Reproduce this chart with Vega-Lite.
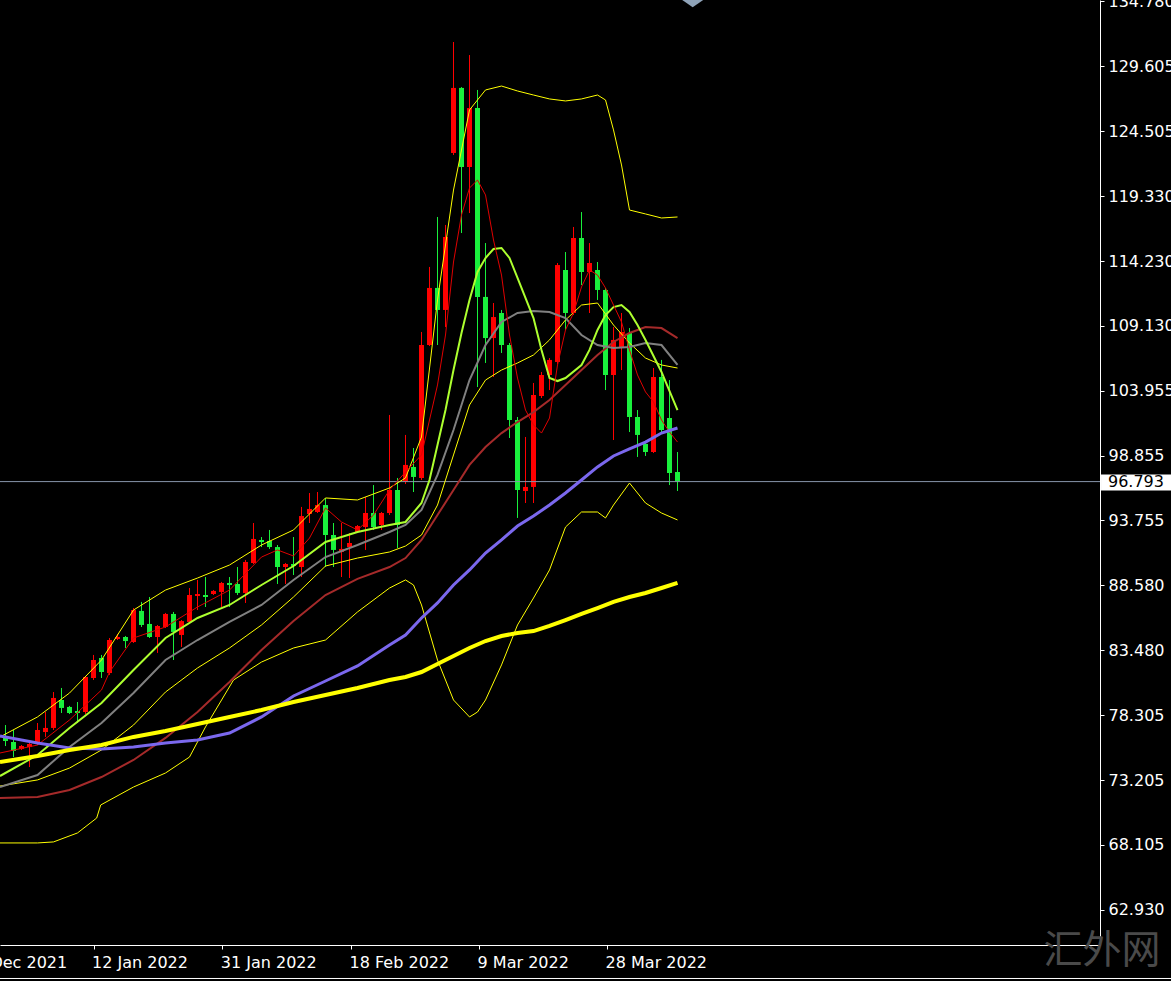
{
  "$schema": "https://vega.github.io/schema/vega-lite/v6.json",
  "width": 1100,
  "height": 945,
  "autosize": {"type": "none"},
  "padding": {"left": 0, "top": 0, "right": 71, "bottom": 36},
  "background": "#000000",
  "config": {"view": {"stroke": null}, "scale": {"continuousPadding": 0}},
  "datasets": {
    "candles": [
      {"j":0,"open":76.68,"high":77.55,"low":75.89,"close":76.29},
      {"j":1,"open":76.21,"high":77.16,"low":75.02,"close":75.50},
      {"j":2,"open":75.66,"high":75.97,"low":75.58,"close":75.89},
      {"j":3,"open":75.81,"high":76.37,"low":74.23,"close":76.05},
      {"j":4,"open":76.13,"high":77.71,"low":75.97,"close":77.16},
      {"j":5,"open":77.00,"high":78.58,"low":76.61,"close":77.32},
      {"j":6,"open":77.32,"high":80.16,"low":77.16,"close":79.69},
      {"j":7,"open":79.53,"high":80.48,"low":78.50,"close":78.90},
      {"j":8,"open":78.98,"high":79.06,"low":78.42,"close":78.50},
      {"j":9,"open":78.66,"high":79.37,"low":77.71,"close":78.50},
      {"j":10,"open":78.58,"high":81.43,"low":78.42,"close":81.35},
      {"j":11,"open":81.27,"high":83.09,"low":81.11,"close":82.69},
      {"j":12,"open":82.85,"high":83.09,"low":81.27,"close":81.74},
      {"j":13,"open":81.66,"high":84.43,"low":81.51,"close":84.27},
      {"j":14,"open":84.35,"high":84.75,"low":84.27,"close":84.51},
      {"j":15,"open":84.51,"high":84.59,"low":83.64,"close":84.19},
      {"j":16,"open":84.11,"high":86.80,"low":84.04,"close":86.64},
      {"j":17,"open":86.57,"high":87.28,"low":85.30,"close":85.46},
      {"j":18,"open":85.54,"high":87.67,"low":84.43,"close":84.51},
      {"j":19,"open":84.51,"high":85.46,"low":83.25,"close":85.38},
      {"j":20,"open":85.30,"high":86.41,"low":85.22,"close":86.33},
      {"j":21,"open":86.33,"high":86.49,"low":82.69,"close":84.91},
      {"j":22,"open":84.67,"high":85.85,"low":83.72,"close":85.77},
      {"j":23,"open":85.70,"high":88.38,"low":85.62,"close":87.83},
      {"j":24,"open":87.75,"high":89.02,"low":86.64,"close":87.91},
      {"j":25,"open":87.83,"high":89.25,"low":86.88,"close":87.67},
      {"j":26,"open":87.91,"high":88.22,"low":87.83,"close":88.15},
      {"j":27,"open":88.07,"high":88.86,"low":86.88,"close":88.78},
      {"j":28,"open":88.78,"high":89.25,"low":86.88,"close":88.62},
      {"j":29,"open":88.70,"high":90.04,"low":87.83,"close":87.99},
      {"j":30,"open":87.99,"high":90.60,"low":87.20,"close":90.44},
      {"j":31,"open":90.36,"high":93.52,"low":90.28,"close":92.26},
      {"j":32,"open":92.18,"high":92.41,"low":91.62,"close":92.02},
      {"j":33,"open":92.10,"high":92.97,"low":91.47,"close":91.62},
      {"j":34,"open":91.62,"high":91.78,"low":88.70,"close":90.04},
      {"j":35,"open":90.04,"high":90.36,"low":88.70,"close":90.28},
      {"j":36,"open":90.28,"high":92.41,"low":89.41,"close":90.12},
      {"j":37,"open":90.04,"high":94.79,"low":89.25,"close":94.07},
      {"j":38,"open":94.23,"high":95.89,"low":93.52,"close":94.63},
      {"j":39,"open":94.39,"high":95.97,"low":94.31,"close":94.94},
      {"j":40,"open":94.94,"high":95.50,"low":90.04,"close":92.57},
      {"j":41,"open":92.57,"high":93.52,"low":90.04,"close":91.39},
      {"j":42,"open":91.23,"high":93.52,"low":89.25,"close":91.47},
      {"j":43,"open":91.62,"high":92.73,"low":89.17,"close":91.94},
      {"j":44,"open":92.81,"high":93.36,"low":92.73,"close":93.28},
      {"j":45,"open":93.20,"high":95.58,"low":91.39,"close":94.31},
      {"j":46,"open":94.31,"high":96.52,"low":92.97,"close":93.20},
      {"j":47,"open":93.36,"high":94.39,"low":92.97,"close":94.31},
      {"j":48,"open":94.31,"high":102.06,"low":94.15,"close":96.13},
      {"j":49,"open":96.13,"high":97.08,"low":91.54,"close":93.36},
      {"j":50,"open":96.76,"high":100.48,"low":96.60,"close":98.11},
      {"j":51,"open":97.95,"high":99.45,"low":95.97,"close":97.16},
      {"j":52,"open":97.08,"high":108.62,"low":96.92,"close":107.59},
      {"j":53,"open":107.59,"high":113.76,"low":107.51,"close":112.10},
      {"j":54,"open":112.10,"high":117.71,"low":107.59,"close":110.36},
      {"j":55,"open":110.36,"high":117.08,"low":109.01,"close":116.13},
      {"j":56,"open":122.77,"high":131.54,"low":122.61,"close":127.91},
      {"j":57,"open":127.91,"high":127.98,"low":116.44,"close":121.66},
      {"j":58,"open":121.66,"high":130.51,"low":118.02,"close":126.32},
      {"j":59,"open":126.32,"high":127.75,"low":104.27,"close":111.39},
      {"j":60,"open":111.39,"high":115.65,"low":106.17,"close":108.14},
      {"j":61,"open":108.14,"high":110.91,"low":105.06,"close":109.80},
      {"j":62,"open":110.12,"high":110.36,"low":106.96,"close":107.59},
      {"j":63,"open":107.59,"high":107.75,"low":100.24,"close":101.66},
      {"j":64,"open":101.66,"high":101.90,"low":93.92,"close":96.13},
      {"j":65,"open":96.05,"high":100.32,"low":95.10,"close":96.37},
      {"j":66,"open":96.37,"high":104.59,"low":95.10,"close":103.64},
      {"j":67,"open":103.56,"high":105.46,"low":103.40,"close":105.22},
      {"j":68,"open":105.22,"high":106.56,"low":104.03,"close":106.41},
      {"j":69,"open":106.25,"high":114.07,"low":106.09,"close":113.91},
      {"j":70,"open":113.52,"high":114.94,"low":108.78,"close":110.12},
      {"j":71,"open":110.12,"high":116.92,"low":109.96,"close":116.05},
      {"j":72,"open":116.05,"high":118.10,"low":112.33,"close":113.36},
      {"j":73,"open":113.36,"high":115.65,"low":110.12,"close":114.07},
      {"j":74,"open":113.52,"high":114.15,"low":111.15,"close":111.94},
      {"j":75,"open":111.94,"high":112.10,"low":104.03,"close":105.22},
      {"j":76,"open":105.22,"high":109.01,"low":100.08,"close":107.99},
      {"j":77,"open":107.43,"high":110.12,"low":105.61,"close":108.62},
      {"j":78,"open":108.54,"high":108.93,"low":100.71,"close":101.90},
      {"j":79,"open":101.90,"high":102.45,"low":98.74,"close":100.48},
      {"j":80,"open":99.77,"high":99.84,"low":98.82,"close":99.13},
      {"j":81,"open":99.13,"high":105.77,"low":99.05,"close":105.06},
      {"j":82,"open":105.06,"high":106.41,"low":100.71,"close":100.87},
      {"j":83,"open":101.82,"high":104.82,"low":96.52,"close":97.47},
      {"j":84,"open":97.55,"high":99.13,"low":96.05,"close":96.793}
    ],
    "last": [{"price": 96.793}],
    "lines": [
      {"s":"bbu","j":-0.69,"v":76.61},{"s":"bbu","j":4,"v":78.19},{"s":"bbu","j":8,"v":80.08},{"s":"bbu","j":12,"v":82.69},{"s":"bbu","j":16,"v":86.64},{"s":"bbu","j":20,"v":88.22},{"s":"bbu","j":24,"v":89.17},{"s":"bbu","j":28,"v":90.20},{"s":"bbu","j":32,"v":91.78},{"s":"bbu","j":36,"v":92.97},{"s":"bbu","j":40,"v":95.50},{"s":"bbu","j":44,"v":95.34},{"s":"bbu","j":48,"v":96.29},{"s":"bbu","j":50,"v":97.08},{"s":"bbu","j":52,"v":100.32},{"s":"bbu","j":54,"v":111.15},{"s":"bbu","j":56,"v":119.84},{"s":"bbu","j":58,"v":126.17},{"s":"bbu","j":60,"v":127.75},{"s":"bbu","j":62,"v":128.06},{"s":"bbu","j":64,"v":127.67},{"s":"bbu","j":66,"v":127.35},{"s":"bbu","j":68,"v":127.04},{"s":"bbu","j":70,"v":126.88},{"s":"bbu","j":72,"v":127.04},{"s":"bbu","j":74,"v":127.35},{"s":"bbu","j":75,"v":126.96},{"s":"bbu","j":76,"v":124.59},{"s":"bbu","j":77,"v":121.82},{"s":"bbu","j":78,"v":118.26},{"s":"bbu","j":80,"v":117.95},{"s":"bbu","j":82,"v":117.63},{"s":"bbu","j":84,"v":117.71},
      {"s":"bbm","j":-0.69,"v":72.73},{"s":"bbm","j":4,"v":73.21},{"s":"bbm","j":8,"v":74.15},{"s":"bbm","j":12,"v":75.58},{"s":"bbm","j":16,"v":77.55},{"s":"bbm","j":20,"v":80.16},{"s":"bbm","j":24,"v":82.06},{"s":"bbm","j":28,"v":83.64},{"s":"bbm","j":32,"v":85.46},{"s":"bbm","j":36,"v":87.67},{"s":"bbm","j":40,"v":90.12},{"s":"bbm","j":44,"v":90.75},{"s":"bbm","j":48,"v":91.23},{"s":"bbm","j":50,"v":91.70},{"s":"bbm","j":52,"v":92.57},{"s":"bbm","j":54,"v":94.94},{"s":"bbm","j":56,"v":98.90},{"s":"bbm","j":58,"v":102.85},{"s":"bbm","j":60,"v":104.82},{"s":"bbm","j":62,"v":105.61},{"s":"bbm","j":64,"v":106.17},{"s":"bbm","j":66,"v":106.80},{"s":"bbm","j":68,"v":107.99},{"s":"bbm","j":70,"v":109.57},{"s":"bbm","j":72,"v":110.75},{"s":"bbm","j":74,"v":110.91},{"s":"bbm","j":76,"v":109.17},{"s":"bbm","j":78,"v":107.75},{"s":"bbm","j":80,"v":106.56},{"s":"bbm","j":82,"v":106.01},{"s":"bbm","j":84,"v":105.77},
      {"s":"bbl","j":-0.69,"v":68.23},{"s":"bbl","j":4,"v":68.23},{"s":"bbl","j":6,"v":68.31},{"s":"bbl","j":9,"v":69.02},{"s":"bbl","j":11.4,"v":70.20},{"s":"bbl","j":11.9,"v":71.23},{"s":"bbl","j":16,"v":72.65},{"s":"bbl","j":20,"v":73.76},{"s":"bbl","j":23,"v":75.02},{"s":"bbl","j":25,"v":77.40},{"s":"bbl","j":28.5,"v":81.11},{"s":"bbl","j":32,"v":82.53},{"s":"bbl","j":36,"v":83.64},{"s":"bbl","j":40,"v":84.27},{"s":"bbl","j":44,"v":86.49},{"s":"bbl","j":48,"v":88.38},{"s":"bbl","j":50,"v":89.02},{"s":"bbl","j":51,"v":88.62},{"s":"bbl","j":52,"v":87.04},{"s":"bbl","j":54,"v":82.69},{"s":"bbl","j":56,"v":79.53},{"s":"bbl","j":58,"v":78.19},{"s":"bbl","j":59,"v":78.58},{"s":"bbl","j":60,"v":79.53},{"s":"bbl","j":62,"v":82.30},{"s":"bbl","j":64,"v":85.46},{"s":"bbl","j":66,"v":87.59},{"s":"bbl","j":68,"v":89.81},{"s":"bbl","j":70,"v":93.20},{"s":"bbl","j":72,"v":94.39},{"s":"bbl","j":74,"v":94.39},{"s":"bbl","j":75,"v":93.92},{"s":"bbl","j":76,"v":94.94},{"s":"bbl","j":78,"v":96.68},{"s":"bbl","j":80,"v":95.10},{"s":"bbl","j":82,"v":94.31},{"s":"bbl","j":84,"v":93.76},
      {"s":"ma30","j":-0.69,"v":71.78},{"s":"ma30","j":4,"v":71.86},{"s":"ma30","j":8,"v":72.42},{"s":"ma30","j":12,"v":73.44},{"s":"ma30","j":16,"v":74.79},{"s":"ma30","j":20,"v":76.53},{"s":"ma30","j":24,"v":78.58},{"s":"ma30","j":28,"v":80.95},{"s":"ma30","j":32,"v":83.48},{"s":"ma30","j":36,"v":85.77},{"s":"ma30","j":40,"v":87.83},{"s":"ma30","j":44,"v":89.10},{"s":"ma30","j":48,"v":90.04},{"s":"ma30","j":50,"v":90.75},{"s":"ma30","j":52,"v":92.18},{"s":"ma30","j":54,"v":94.15},{"s":"ma30","j":56,"v":96.13},{"s":"ma30","j":58,"v":98.11},{"s":"ma30","j":60,"v":99.53},{"s":"ma30","j":62,"v":100.63},{"s":"ma30","j":64,"v":101.50},{"s":"ma30","j":66,"v":102.29},{"s":"ma30","j":68,"v":103.24},{"s":"ma30","j":70,"v":104.43},{"s":"ma30","j":72,"v":105.61},{"s":"ma30","j":74,"v":106.80},{"s":"ma30","j":76,"v":107.83},{"s":"ma30","j":78,"v":108.54},{"s":"ma30","j":80,"v":109.01},{"s":"ma30","j":82,"v":108.93},{"s":"ma30","j":84,"v":108.14},
      {"s":"ema20","j":-0.69,"v":72.65},{"s":"ema20","j":4,"v":73.60},{"s":"ema20","j":8,"v":75.81},{"s":"ema20","j":12,"v":77.71},{"s":"ema20","j":16,"v":80.08},{"s":"ema20","j":20,"v":82.69},{"s":"ema20","j":24,"v":84.27},{"s":"ema20","j":28,"v":85.70},{"s":"ema20","j":32,"v":87.04},{"s":"ema20","j":36,"v":89.02},{"s":"ema20","j":40,"v":90.83},{"s":"ema20","j":44,"v":91.78},{"s":"ema20","j":48,"v":92.81},{"s":"ema20","j":50,"v":93.36},{"s":"ema20","j":52,"v":94.55},{"s":"ema20","j":54,"v":97.32},{"s":"ema20","j":56,"v":100.87},{"s":"ema20","j":58,"v":104.82},{"s":"ema20","j":60,"v":107.59},{"s":"ema20","j":62,"v":109.41},{"s":"ema20","j":64,"v":110.12},{"s":"ema20","j":66,"v":110.28},{"s":"ema20","j":68,"v":110.20},{"s":"ema20","j":70,"v":109.72},{"s":"ema20","j":72,"v":108.38},{"s":"ema20","j":74,"v":107.59},{"s":"ema20","j":76,"v":107.35},{"s":"ema20","j":78,"v":107.43},{"s":"ema20","j":80,"v":107.75},{"s":"ema20","j":82,"v":107.59},{"s":"ema20","j":84,"v":106.01},
      {"s":"ma10","j":-0.69,"v":73.52},{"s":"ma10","j":4,"v":75.18},{"s":"ma10","j":8,"v":77.32},{"s":"ma10","j":12,"v":79.29},{"s":"ma10","j":16,"v":81.90},{"s":"ma10","j":20,"v":84.43},{"s":"ma10","j":24,"v":86.01},{"s":"ma10","j":28,"v":87.04},{"s":"ma10","j":32,"v":88.62},{"s":"ma10","j":36,"v":90.12},{"s":"ma10","j":40,"v":92.02},{"s":"ma10","j":44,"v":92.81},{"s":"ma10","j":48,"v":93.36},{"s":"ma10","j":50,"v":93.60},{"s":"ma10","j":52,"v":95.10},{"s":"ma10","j":53,"v":96.92},{"s":"ma10","j":54,"v":99.69},{"s":"ma10","j":55,"v":102.45},{"s":"ma10","j":56,"v":105.61},{"s":"ma10","j":57,"v":108.54},{"s":"ma10","j":58,"v":111.15},{"s":"ma10","j":59,"v":113.36},{"s":"ma10","j":60,"v":114.47},{"s":"ma10","j":61,"v":115.18},{"s":"ma10","j":62,"v":115.26},{"s":"ma10","j":63,"v":114.47},{"s":"ma10","j":64,"v":112.89},{"s":"ma10","j":66,"v":109.72},{"s":"ma10","j":67,"v":107.20},{"s":"ma10","j":68,"v":104.98},{"s":"ma10","j":69,"v":104.74},{"s":"ma10","j":70,"v":104.98},{"s":"ma10","j":72,"v":106.01},{"s":"ma10","j":73,"v":107.20},{"s":"ma10","j":74,"v":108.78},{"s":"ma10","j":75,"v":109.96},{"s":"ma10","j":76,"v":110.59},{"s":"ma10","j":77,"v":110.75},{"s":"ma10","j":78,"v":110.20},{"s":"ma10","j":79,"v":109.17},{"s":"ma10","j":80,"v":107.99},{"s":"ma10","j":82,"v":105.46},{"s":"ma10","j":84,"v":102.45},
      {"s":"ma5","j":-0.69,"v":75.34},{"s":"ma5","j":4,"v":75.97},{"s":"ma5","j":8,"v":77.95},{"s":"ma5","j":12,"v":80.32},{"s":"ma5","j":13,"v":81.74},{"s":"ma5","j":16,"v":84.43},{"s":"ma5","j":20,"v":85.30},{"s":"ma5","j":24,"v":86.88},{"s":"ma5","j":28,"v":88.22},{"s":"ma5","j":32,"v":90.83},{"s":"ma5","j":34,"v":91.39},{"s":"ma5","j":36,"v":90.91},{"s":"ma5","j":38,"v":92.33},{"s":"ma5","j":40,"v":94.71},{"s":"ma5","j":42,"v":93.60},{"s":"ma5","j":44,"v":92.97},{"s":"ma5","j":46,"v":94.15},{"s":"ma5","j":48,"v":96.13},{"s":"ma5","j":50,"v":97.55},{"s":"ma5","j":52,"v":98.90},{"s":"ma5","j":53,"v":101.66},{"s":"ma5","j":54,"v":104.43},{"s":"ma5","j":55,"v":108.38},{"s":"ma5","j":56,"v":114.15},{"s":"ma5","j":57,"v":117.87},{"s":"ma5","j":58,"v":120.00},{"s":"ma5","j":59,"v":120.63},{"s":"ma5","j":60,"v":119.45},{"s":"ma5","j":61,"v":115.89},{"s":"ma5","j":62,"v":113.12},{"s":"ma5","j":63,"v":108.38},{"s":"ma5","j":64,"v":104.98},{"s":"ma5","j":65,"v":102.45},{"s":"ma5","j":66,"v":101.27},{"s":"ma5","j":67,"v":100.63},{"s":"ma5","j":68,"v":101.82},{"s":"ma5","j":69,"v":106.01},{"s":"ma5","j":70,"v":108.78},{"s":"ma5","j":71,"v":110.12},{"s":"ma5","j":72,"v":112.18},{"s":"ma5","j":73,"v":113.52},{"s":"ma5","j":74,"v":113.12},{"s":"ma5","j":75,"v":112.10},{"s":"ma5","j":76,"v":110.75},{"s":"ma5","j":77,"v":109.41},{"s":"ma5","j":78,"v":107.20},{"s":"ma5","j":79,"v":105.22},{"s":"ma5","j":80,"v":103.88},{"s":"ma5","j":81,"v":103.09},{"s":"ma5","j":82,"v":101.66},{"s":"ma5","j":83,"v":100.71},{"s":"ma5","j":84,"v":99.92},
      {"s":"ma60","j":-0.69,"v":76.68},{"s":"ma60","j":4,"v":76.13},{"s":"ma60","j":8,"v":75.74},{"s":"ma60","j":12,"v":75.66},{"s":"ma60","j":16,"v":75.81},{"s":"ma60","j":20,"v":76.13},{"s":"ma60","j":24,"v":76.37},{"s":"ma60","j":28,"v":76.92},{"s":"ma60","j":32,"v":78.19},{"s":"ma60","j":36,"v":79.85},{"s":"ma60","j":40,"v":81.03},{"s":"ma60","j":44,"v":82.22},{"s":"ma60","j":48,"v":83.88},{"s":"ma60","j":50,"v":84.67},{"s":"ma60","j":52,"v":86.01},{"s":"ma60","j":54,"v":87.20},{"s":"ma60","j":56,"v":88.62},{"s":"ma60","j":58,"v":89.81},{"s":"ma60","j":60,"v":91.15},{"s":"ma60","j":62,"v":92.18},{"s":"ma60","j":64,"v":93.28},{"s":"ma60","j":66,"v":94.07},{"s":"ma60","j":68,"v":94.94},{"s":"ma60","j":70,"v":95.89},{"s":"ma60","j":72,"v":96.92},{"s":"ma60","j":74,"v":97.95},{"s":"ma60","j":76,"v":98.82},{"s":"ma60","j":78,"v":99.37},{"s":"ma60","j":80,"v":99.92},{"s":"ma60","j":82,"v":100.63},{"s":"ma60","j":84,"v":101.03},
      {"s":"ma200","j":-0.69,"v":74.63},{"s":"ma200","j":4,"v":75.10},{"s":"ma200","j":8,"v":75.58},{"s":"ma200","j":12,"v":75.97},{"s":"ma200","j":16,"v":76.61},{"s":"ma200","j":20,"v":77.08},{"s":"ma200","j":24,"v":77.63},{"s":"ma200","j":28,"v":78.19},{"s":"ma200","j":32,"v":78.74},{"s":"ma200","j":36,"v":79.37},{"s":"ma200","j":40,"v":79.92},{"s":"ma200","j":44,"v":80.48},{"s":"ma200","j":48,"v":81.11},{"s":"ma200","j":50,"v":81.35},{"s":"ma200","j":52,"v":81.74},{"s":"ma200","j":54,"v":82.38},{"s":"ma200","j":56,"v":83.01},{"s":"ma200","j":58,"v":83.64},{"s":"ma200","j":60,"v":84.19},{"s":"ma200","j":62,"v":84.59},{"s":"ma200","j":64,"v":84.83},{"s":"ma200","j":66,"v":84.98},{"s":"ma200","j":68,"v":85.38},{"s":"ma200","j":70,"v":85.85},{"s":"ma200","j":72,"v":86.33},{"s":"ma200","j":74,"v":86.80},{"s":"ma200","j":76,"v":87.28},{"s":"ma200","j":78,"v":87.67},{"s":"ma200","j":80,"v":87.99},{"s":"ma200","j":82,"v":88.38},{"s":"ma200","j":84,"v":88.78}
    ]
  },
  "layer": [
    {
      "data": {"name": "candles"},
      "mark": {"type": "rule", "strokeWidth": 1},
      "encoding": {
        "x": {"field": "j", "type": "quantitative",
          "scale": {"domain": [-0.6875, 136.8125], "nice": false, "zero": false, "padding": 0},
          "axis": {
            "orient": "bottom", "title": null, "grid": false,
            "values": [7.9, 11.0, 27.1, 43.2, 59.2, 75.2],
            "labelExpr": "datum.value < 8 ? '24 Dec 2021' : datum.value < 12 ? '12 Jan 2022' : datum.value < 28 ? '31 Jan 2022' : datum.value < 44 ? '18 Feb 2022' : datum.value < 60 ? '9 Mar 2022' : '28 Mar 2022'",
            "labelAlign": {"condition": {"test": "datum.value < 8", "value": "right"}, "value": "left"},
            "tickOpacity": {"condition": {"test": "datum.value < 8", "value": 0}, "value": 1},
            "labelOffset": -2,
            "labelFlush": false, "labelOverlap": false, "labelBound": false,
            "domainColor": "#ffffff", "tickColor": "#ffffff", "labelColor": "#ffffff",
            "tickSize": 4, "labelPadding": 5,
            "labelFont": "DejaVu Sans", "labelFontSize": 16
          }
        },
        "y": {"field": "low", "type": "quantitative",
          "scale": {"domain": [60.163, 134.861], "nice": false, "zero": false, "padding": 0},
          "axis": {
            "orient": "right", "title": null, "grid": false,
            "values": [134.78, 129.605, 124.505, 119.33, 114.23, 109.13, 103.955, 98.855, 93.755, 88.58, 83.48, 78.305, 73.205, 68.105, 62.93],
            "format": ".3f",
            "labelOverlap": false, "labelBound": false, "labelFlush": false,
            "domainColor": "#ffffff", "tickColor": "#ffffff", "labelColor": "#ffffff",
            "tickSize": 4, "labelPadding": 4,
            "labelFont": "DejaVu Sans", "labelFontSize": 16
          }
        },
        "y2": {"field": "high"},
        "color": {"condition": {"test": "datum.close > datum.open", "value": "#ff0000"}, "value": "#19f03c"}
      }
    },
    {
      "data": {"name": "candles"},
      "mark": {"type": "bar", "width": 5},
      "encoding": {
        "x": {"field": "j", "type": "quantitative", "scale": {"domain": [-0.6875, 136.8125], "nice": false, "zero": false, "padding": 0}},
        "y": {"field": "open", "type": "quantitative", "scale": {"domain": [60.163, 134.861], "nice": false, "zero": false, "padding": 0}},
        "y2": {"field": "close"},
        "color": {"condition": {"test": "datum.close > datum.open", "value": "#ff0000"}, "value": "#19f03c"}
      }
    },
    {
      "data": {"name": "last"},
      "mark": {"type": "rule", "color": "#8796aa", "strokeWidth": 1},
      "encoding": {
        "y": {"field": "price", "type": "quantitative", "scale": {"domain": [60.163, 134.861], "nice": false, "zero": false, "padding": 0}}
      }
    },
    {
      "data": {"name": "lines"},
      "transform": [{"filter": {"field": "s", "oneOf": ["bbu", "bbm", "bbl"]}}],
      "mark": {"type": "line", "color": "#ffff00", "strokeWidth": 1},
      "encoding": {
        "x": {"field": "j", "type": "quantitative", "scale": {"domain": [-0.6875, 136.8125], "nice": false, "zero": false, "padding": 0}},
        "y": {"field": "v", "type": "quantitative", "scale": {"domain": [60.163, 134.861], "nice": false, "zero": false, "padding": 0}},
        "detail": {"field": "s"}
      }
    },
    {
      "data": {"name": "lines"},
      "transform": [{"filter": {"field": "s", "equal": "ma30"}}],
      "mark": {"type": "line", "color": "#a52a2a", "strokeWidth": 2},
      "encoding": {
        "x": {"field": "j", "type": "quantitative", "scale": {"domain": [-0.6875, 136.8125], "nice": false, "zero": false, "padding": 0}},
        "y": {"field": "v", "type": "quantitative", "scale": {"domain": [60.163, 134.861], "nice": false, "zero": false, "padding": 0}}
      }
    },
    {
      "data": {"name": "lines"},
      "transform": [{"filter": {"field": "s", "equal": "ema20"}}],
      "mark": {"type": "line", "color": "#808080", "strokeWidth": 2},
      "encoding": {
        "x": {"field": "j", "type": "quantitative", "scale": {"domain": [-0.6875, 136.8125], "nice": false, "zero": false, "padding": 0}},
        "y": {"field": "v", "type": "quantitative", "scale": {"domain": [60.163, 134.861], "nice": false, "zero": false, "padding": 0}}
      }
    },
    {
      "data": {"name": "lines"},
      "transform": [{"filter": {"field": "s", "equal": "ma10"}}],
      "mark": {"type": "line", "color": "#adff2f", "strokeWidth": 2},
      "encoding": {
        "x": {"field": "j", "type": "quantitative", "scale": {"domain": [-0.6875, 136.8125], "nice": false, "zero": false, "padding": 0}},
        "y": {"field": "v", "type": "quantitative", "scale": {"domain": [60.163, 134.861], "nice": false, "zero": false, "padding": 0}}
      }
    },
    {
      "data": {"name": "lines"},
      "transform": [{"filter": {"field": "s", "equal": "ma5"}}],
      "mark": {"type": "line", "color": "#e00000", "strokeWidth": 1},
      "encoding": {
        "x": {"field": "j", "type": "quantitative", "scale": {"domain": [-0.6875, 136.8125], "nice": false, "zero": false, "padding": 0}},
        "y": {"field": "v", "type": "quantitative", "scale": {"domain": [60.163, 134.861], "nice": false, "zero": false, "padding": 0}}
      }
    },
    {
      "data": {"name": "lines"},
      "transform": [{"filter": {"field": "s", "equal": "ma60"}}],
      "mark": {"type": "line", "color": "#7b68ee", "strokeWidth": 3},
      "encoding": {
        "x": {"field": "j", "type": "quantitative", "scale": {"domain": [-0.6875, 136.8125], "nice": false, "zero": false, "padding": 0}},
        "y": {"field": "v", "type": "quantitative", "scale": {"domain": [60.163, 134.861], "nice": false, "zero": false, "padding": 0}}
      }
    },
    {
      "data": {"name": "lines"},
      "transform": [{"filter": {"field": "s", "equal": "ma200"}}],
      "mark": {"type": "line", "color": "#ffff00", "strokeWidth": 4},
      "encoding": {
        "x": {"field": "j", "type": "quantitative", "scale": {"domain": [-0.6875, 136.8125], "nice": false, "zero": false, "padding": 0}},
        "y": {"field": "v", "type": "quantitative", "scale": {"domain": [60.163, 134.861], "nice": false, "zero": false, "padding": 0}}
      }
    },
    {
      "data": {"name": "last"},
      "mark": {"type": "rect", "color": "#ffffff"},
      "encoding": {
        "x": {"datum": 136.94, "type": "quantitative", "scale": {"domain": [-0.6875, 136.8125], "nice": false, "zero": false, "padding": 0}},
        "x2": {"datum": 146.5},
        "y": {"datum": 97.354, "type": "quantitative", "scale": {"domain": [60.163, 134.861], "nice": false, "zero": false, "padding": 0}},
        "y2": {"datum": 96.089}
      }
    },
    {
      "data": {"name": "last"},
      "mark": {"type": "text", "align": "left", "baseline": "middle", "font": "DejaVu Sans", "fontSize": 16, "color": "#000000"},
      "encoding": {
        "x": {"datum": 137.81, "type": "quantitative", "scale": {"domain": [-0.6875, 136.8125], "nice": false, "zero": false, "padding": 0}},
        "y": {"field": "price", "type": "quantitative", "scale": {"domain": [60.163, 134.861], "nice": false, "zero": false, "padding": 0}},
        "text": {"field": "price", "type": "quantitative", "format": ".3f"}
      }
    },
    {
      "data": {"values": [{"marker": "shift"}]},
      "mark": {"type": "point", "shape": "M-1,0L0,-0.7L1,0L0,0.7Z", "filled": true, "size": 441, "color": "#8fa3b8", "opacity": 1},
      "encoding": {
        "x": {"datum": 85.9, "type": "quantitative", "scale": {"domain": [-0.6875, 136.8125], "nice": false, "zero": false, "padding": 0}},
        "y": {"datum": 134.861, "type": "quantitative", "scale": {"domain": [60.163, 134.861], "nice": false, "zero": false, "padding": 0}}
      }
    },
    {
      "data": {"values": [{"frame": "bottom"}]},
      "mark": {"type": "rule", "color": "#ffffff", "strokeWidth": 1},
      "encoding": {
        "x": {"datum": -2, "type": "quantitative", "scale": {"domain": [-0.6875, 136.8125], "nice": false, "zero": false, "padding": 0}},
        "x2": {"datum": 148},
        "y": {"datum": 57.516, "type": "quantitative", "scale": {"domain": [60.163, 134.861], "nice": false, "zero": false, "padding": 0}}
      }
    },
    {
      "data": {"values": [{"mark": "汇外网"}]},
      "mark": {"type": "text", "align": "center", "baseline": "middle", "font": "Noto Sans CJK SC", "fontSize": 39, "color": "#4a4a4a"},
      "encoding": {
        "x": {"datum": 137.06, "type": "quantitative", "scale": {"domain": [-0.6875, 136.8125], "nice": false, "zero": false, "padding": 0}},
        "y": {"datum": 59.69, "type": "quantitative", "scale": {"domain": [60.163, 134.861], "nice": false, "zero": false, "padding": 0}},
        "text": {"field": "mark"}
      }
    }
  ]
}
